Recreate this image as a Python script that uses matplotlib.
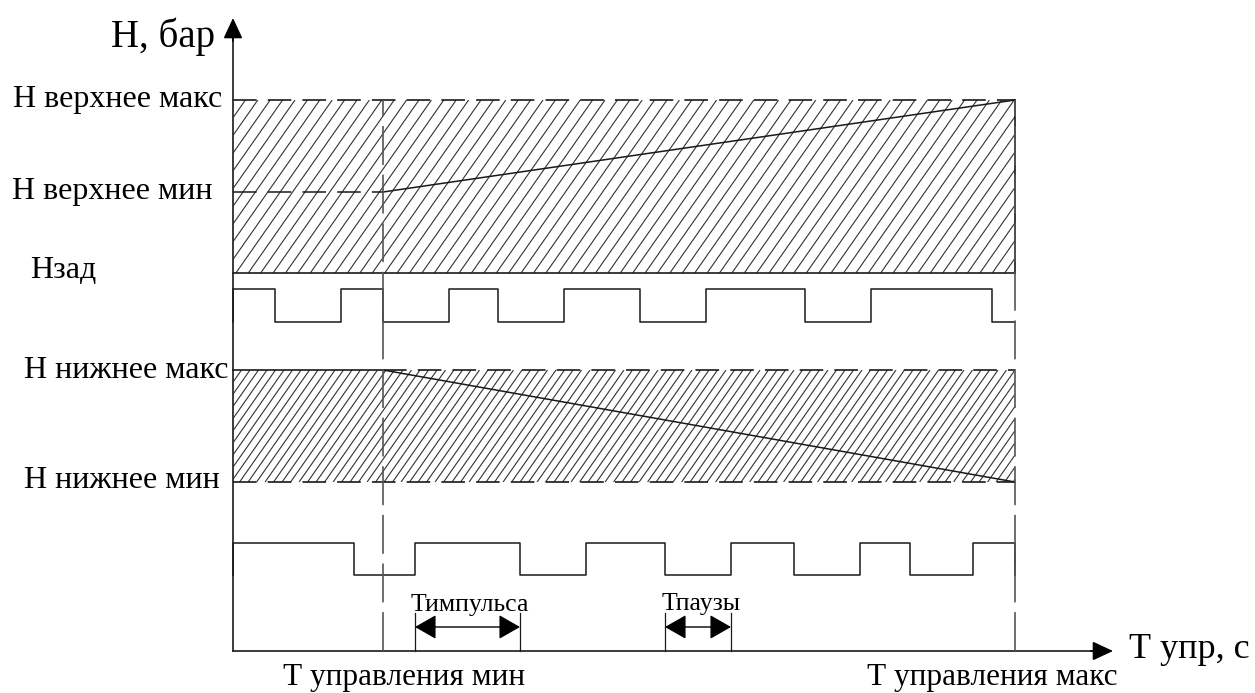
import numpy as np
import matplotlib
matplotlib.use("Agg")
import matplotlib.pyplot as plt
from matplotlib.patches import Rectangle
from matplotlib.collections import LineCollection

plt.rcParams['font.family'] = ['Liberation Serif', 'DejaVu Serif']
plt.rcParams['lines.scale_dashes'] = False

# time marks (x units) and levels (y units)
t_min = 150
t_max = 782

h_up_max = 551
h_up_min = 459
h_zad = 378
h_low_max = 281
h_low_min = 169

# pulse trains: (start, end)
pulses_up = [(0, 42), (108, 150), (216, 265), (331, 407), (473, 572), (638, 759)]
pulses_up_base, pulses_up_top = 329, 362
pulses_low = [(0, 121), (182, 287), (353, 432), (498, 561), (627, 677), (740, 782)]
pulses_low_base, pulses_low_top = 76, 108

t_impulse = (182, 287)
t_pause = (432, 498)
arrow_h = 24

level_labels = ["Н верхнее макс", "Н верхнее мин", "Нзад", "Н нижнее макс", "Н нижнее мин"]

ink = '#1a1a1a'
dash_h = (0, (17, 8))
dash_v = (0, (28, 7))

fig = plt.figure(figsize=(12.55, 6.93), dpi=100)
ax = fig.add_axes([0, 0, 1, 1])
ax.set_xlim(-233, 1022)
ax.set_ylim(-42, 651)
ax.axis('off')


def hatch(x0, x1, y0, y1, step, lean=0.7):
    rect = Rectangle((x0, y0), x1 - x0, y1 - y0, fill=False, lw=0)
    ax.add_patch(rect)
    h = y1 - y0
    segs = [[(s, y0), (s + h * lean, y1)] for s in np.arange(x0 - h * lean, x1, step)]
    lc = LineCollection(segs, colors='#333333', linewidths=0.8)
    ax.add_collection(lc)
    lc.set_clip_path(rect)


def pulse_train(pulses, base, top):
    xs, ys = [0], [base]
    for a, b in pulses:
        xs += [a, a, b, b]
        ys += [base, top, top, base]
    xs.append(t_max)
    ys.append(base)
    ax.plot(xs, ys, color=ink, lw=1.1)


# axes with arrows
ax.plot([0, 0], [0, 620], color=ink, lw=1.2)
ax.plot([0, 865], [0, 0], color=ink, lw=1.2)
ax.annotate('', xy=(0, 633), xytext=(0, 610),
            arrowprops=dict(arrowstyle='-|>,head_length=0.9,head_width=0.42',
                            mutation_scale=14, color='black', lw=1.2, shrinkA=0, shrinkB=0))
ax.annotate('', xy=(880, 0), xytext=(858, 0),
            arrowprops=dict(arrowstyle='-|>,head_length=0.9,head_width=0.42',
                            mutation_scale=14, color='black', lw=1.2, shrinkA=0, shrinkB=0))

# upper band
hatch(0, t_max, h_zad, h_up_max, 12.4)
ax.plot([0, t_max], [h_up_max, h_up_max], color=ink, lw=1.2, ls=dash_h)
ax.plot([0, t_max], [h_zad, h_zad], color=ink, lw=1.2)
ax.plot([t_max, t_max], [h_zad, h_up_max], color=ink, lw=1.2)
ax.plot([0, t_min], [h_up_min, h_up_min], color=ink, lw=1.1, ls=dash_h)
ax.plot([t_min, t_max], [h_up_min, h_up_max], color=ink, lw=1.1)

pulse_train(pulses_up, pulses_up_base, pulses_up_top)

# lower band
hatch(0, t_max, h_low_min, h_low_max, 8.5)
ax.plot([0, t_min], [h_low_max, h_low_max], color=ink, lw=1.2)
ax.plot([t_min, t_max], [h_low_max, h_low_max], color=ink, lw=1.2, ls=dash_h)
ax.plot([0, t_max], [h_low_min, h_low_min], color=ink, lw=1.2, ls=dash_h)
ax.plot([t_min, t_max], [h_low_max, h_low_min], color=ink, lw=1.1)

pulse_train(pulses_low, pulses_low_base, pulses_low_top)

# control time limits
for t in (t_min, t_max):
    ax.plot([t, t], [0, h_up_max], color='#555555', lw=1.2, ls=dash_v)

# duration arrows
for (a, b) in (t_impulse, t_pause):
    ax.plot([a, a], [0, 38], color=ink, lw=0.9)
    ax.plot([b, b], [0, 38], color=ink, lw=0.9)
    ax.annotate('', xy=(a, arrow_h), xytext=(b, arrow_h),
                arrowprops=dict(arrowstyle='<|-|>,head_length=0.7,head_width=0.4',
                                mutation_scale=19, color='black', lw=1.0, shrinkA=0, shrinkB=0))
ax.text(237, 46, "Тимпульса", ha='center', va='center', fontsize=18.5)
ax.text(468, 47, "Тпаузы", ha='center', va='center', fontsize=18.5)

# labels
ax.text(-18, 614, "Н, бар", ha='right', va='center', fontsize=28)
ax.text(-11, h_up_max, level_labels[0], ha='right', va='center', fontsize=23)
ax.text(-21, h_up_min, level_labels[1], ha='right', va='center', fontsize=23)
ax.text(-203, h_zad + 2, level_labels[2], ha='left', va='center', fontsize=23)
ax.text(-5, h_low_max, level_labels[3], ha='right', va='center', fontsize=23)
ax.text(-13, h_low_min + 1, level_labels[4], ha='right', va='center', fontsize=23)
ax.text(896, 1, "Т упр, с", ha='left', va='center', fontsize=26)
ax.text(171, -27, "Т управления мин", ha='center', va='center', fontsize=22.5)
ax.text(759, -27, "Т управления макс", ha='center', va='center', fontsize=22.5)

fig.savefig("out.png", dpi=100)
